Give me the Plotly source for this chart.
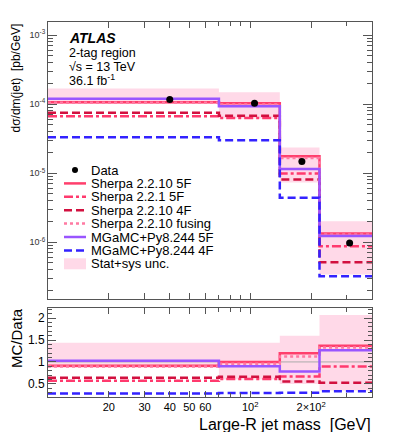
import plotly.graph_objects as go

# bin edges of the large-R jet mass [GeV]
edges = [10, 70, 140, 220, 400]
centers = [(a + b) / 2 for a, b in zip(edges[:-1], edges[1:])]

data = [1.17e-4, 1.03e-4, 1.47e-5, 0.97e-6]
unc_lo = [1.01e-4, 0.62e-4, 0.73e-5, 0.34e-6]
unc_hi = [1.68e-4, 1.48e-4, 2.35e-5, 2.01e-6]

sherpa_2210_5f = [1.065e-4, 1.03e-4, 1.76e-5, 1.33e-6]
sherpa_221_5f = [6.67e-5, 6.28e-5, 9.85e-6, 8.7e-7]
sherpa_2210_4f = [7.49e-5, 6.8e-5, 8.1e-6, 5.1e-7]
sherpa_fusing = [1.05e-4, 9.9e-5, 1.65e-5, 1.29e-6]
mg_5f = [1.2e-4, 9.3e-5, 1.15e-5, 1.23e-6]
mg_4f = [3.3e-5, 3.0e-5, 4.4e-6, 3.2e-7]

# the page body has an 8px margin, so the figure is made smaller and offset
OFF = 8
W, H = 399 - 2 * OFF, 440 - 2 * OFF
FONT = "Liberation Sans"
FRAME = "#555555"
BAND = "#ffd9e8"

series = [
    ("Sherpa 2.2.10 5F", sherpa_2210_5f, "#ff3f6c", "solid"),
    ("Sherpa 2.2.1 5F", sherpa_221_5f, "#ff3a6e", "9px,3px,3px,3px"),
    ("Sherpa 2.2.10 4F", sherpa_2210_4f, "#d2103f", "8px,4px"),
    ("Sherpa 2.2.10 fusing", sherpa_fusing, "#ff7aa2", "3px,3px"),
    ("MGaMC+Py8.244 5F", mg_5f, "#9955ff", "solid"),
    ("MGaMC+Py8.244 4F", mg_4f, "#3322ff", "8px,4px"),
]


def px(x):
    return (x - OFF) / W


def py(y):
    return 1 - (y - OFF) / H


def step(vals):
    return list(vals) + [vals[-1]]


fig = go.Figure()

# uncertainty band, top and ratio panels
ratio_lo = [l / d for l, d in zip(unc_lo, data)]
ratio_hi = [h / d for h, d in zip(unc_hi, data)]
for ax, lo, hi in [("", unc_lo, unc_hi), ("2", ratio_lo, ratio_hi)]:
    fig.add_trace(go.Scatter(x=edges, y=step(lo), mode="lines", line_shape="hv",
                             line_width=0, xaxis="x" + ax, yaxis="y" + ax,
                             showlegend=False, hoverinfo="skip"))
    fig.add_trace(go.Scatter(x=edges, y=step(hi), mode="lines", line_shape="hv",
                             line_width=0, fill="tonexty", fillcolor=BAND,
                             xaxis="x" + ax, yaxis="y" + ax,
                             showlegend=False, hoverinfo="skip"))

fig.add_trace(go.Scatter(x=[edges[0], edges[-1]], y=[1, 1], mode="lines",
                         line=dict(color="#aaaaaa", width=1),
                         xaxis="x2", yaxis="y2", showlegend=False))

for name, vals, color, dash in series:
    ratio = [v / d for v, d in zip(vals, data)]
    for ax, yv in [("", vals), ("2", ratio)]:
        fig.add_trace(go.Scatter(
            x=edges, y=step(yv), mode="lines", line_shape="hv", name=name,
            line=dict(color=color, width=2.5, dash=dash),
            xaxis="x" + ax, yaxis="y" + ax, showlegend=False,
        ))

fig.add_trace(go.Scatter(x=centers, y=data, mode="markers", name="Data",
                         marker=dict(color="black", size=7), showlegend=False))

# custom ROOT-like legend
legend_rows = [("Data", None, None)] + [(n, c, d) for n, _, c, d in series] + [("Stat+sys unc.", BAND, "band")]
shapes = []
annotations = []
y0, dy = 170, 13.4
for i, (label, color, dash) in enumerate(legend_rows):
    y = y0 + i * dy
    if color is None:
        shapes.append(dict(type="circle", xref="paper", yref="paper",
                           x0=px(72), x1=px(78), y0=py(y + 3), y1=py(y - 3),
                           fillcolor="black", line_width=0))
    elif dash == "band":
        shapes.append(dict(type="rect", xref="paper", yref="paper",
                           x0=px(64), x1=px(86), y0=py(y + 5.5), y1=py(y - 5.5),
                           fillcolor=BAND, line_width=0))
    else:
        shapes.append(dict(type="line", xref="paper", yref="paper",
                           x0=px(64), x1=px(86), y0=py(y), y1=py(y),
                           line=dict(color=color, width=2.5, dash=dash)))
    annotations.append(dict(text=label, xref="paper", yref="paper", x=px(89), y=py(y),
                            xanchor="left", yanchor="middle", showarrow=False,
                            font=dict(size=13, color="black", family=FONT)))

# ATLAS label
annotations.append(dict(text="<b><i>ATLAS</i></b>", xref="paper", yref="paper",
                        x=px(67), y=py(38), xanchor="left", yanchor="middle",
                        showarrow=False, font=dict(size=14, color="black", family=FONT)))
for text, y in [("2-tag region", 53), ("√s = 13 TeV", 67), ("36.1 fb<sup>-1</sup>", 80)]:
    annotations.append(dict(text=text, xref="paper", yref="paper", x=px(67), y=py(y),
                            xanchor="left", yanchor="middle", showarrow=False,
                            font=dict(size=12.5, color="black", family=FONT)))

# axis titles
annotations.append(dict(text="dσ/dm(jet)  [pb/GeV]", xref="paper", yref="paper",
                        x=px(15), y=py(22), xanchor="center", yanchor="top", textangle=-90,
                        showarrow=False, font=dict(size=12, color="black", family=FONT)))
annotations.append(dict(text="MC/Data", xref="paper", yref="paper",
                        x=px(16), y=py(338), xanchor="center", yanchor="middle", textangle=-90,
                        showarrow=False, font=dict(size=15, color="black", family=FONT)))
annotations.append(dict(text="Large-R jet mass  [GeV]", xref="paper", yref="paper",
                        x=px(373), y=py(424), xanchor="right", yanchor="middle",
                        showarrow=False, font=dict(size=16, color="black", family=FONT)))

xdom = [px(48), px(372)]
axis_common = dict(showline=True, linecolor=FRAME, linewidth=1, mirror="allticks",
                   ticks="inside", tickcolor=FRAME, showgrid=False, zeroline=False,
                   automargin=False,
                   tickfont=dict(size=11, color="black", family=FONT))

xticks = [20, 30, 40, 50, 60, 100, 200]
xtext = ["20", "30", "40", "50", "60", "10<sup>2</sup>", "2×10<sup>2</sup>"]
xminor = dict(ticks="inside", ticklen=4, tickcolor=FRAME, tickvals=[70, 80, 90, 300, 400])

ytop = [1e-3, 1e-4, 1e-5, 1e-6]
ytop_text = ["10<sup>-3</sup>", "10<sup>-4</sup>", "10<sup>-5</sup>", "10<sup>-6</sup>"]
ytop_minor = [m * 10.0 ** e for e in range(-7, -2) for m in range(2, 10)]

fig.update_layout(
    template="none",
    width=W, height=H,
    margin=dict(l=0, r=0, t=0, b=0, autoexpand=False),
    paper_bgcolor="white", plot_bgcolor="white",
    showlegend=False,
    shapes=shapes, annotations=annotations,
    xaxis=dict(domain=xdom, anchor="y", type="log", range=[1, 2.602],
               tickvals=xticks, ticklen=6, showticklabels=False, minor=xminor, **axis_common),
    yaxis=dict(domain=[py(299), py(22)], anchor="x", type="log", range=[-6.824, -2.81],
               tickvals=ytop, ticktext=ytop_text, ticklen=9,
               minor=dict(ticks="inside", ticklen=5, tickcolor=FRAME, tickvals=ytop_minor),
               **{**axis_common, "tickfont": dict(size=9, color="#333", family=FONT)}),
    xaxis2=dict(domain=xdom, anchor="y2", type="log", range=[1, 2.602], matches="x",
                tickvals=xticks, ticktext=xtext, ticklen=6, minor=xminor, **axis_common),
    yaxis2=dict(domain=[py(397), py(308)], anchor="x2", range=[0.2, 2.23],
                tickvals=[0.5, 1, 1.5, 2], ticktext=["0.5", "1", "1.5", "2"], ticklen=8,
                minor=dict(ticks="inside", ticklen=4, tickcolor=FRAME, dtick=0.1),
                **{**axis_common, "tickfont": dict(size=12, color="black", family=FONT)}),
)

fig.write_html("out.html")
